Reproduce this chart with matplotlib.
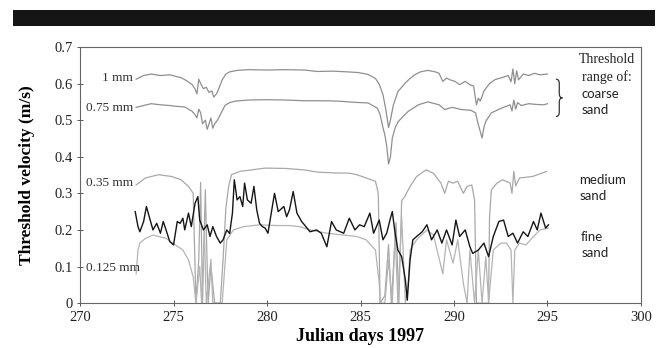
import matplotlib
matplotlib.use("Agg")
import matplotlib.pyplot as plt
from matplotlib.patches import Rectangle, PathPatch
from matplotlib.path import Path

# threshold curve for 1 mm grains
days_1mm = [273.0, 273.4, 273.8, 274.3, 274.8, 275.1, 275.4, 275.7, 276.0, 276.15,
            276.25, 276.35, 276.45, 276.6, 276.75, 276.9, 277.05, 277.15, 277.3, 277.45,
            277.6, 277.8, 278.0, 278.4, 279.0, 280.0, 281.0, 282.0, 282.7, 283.5,
            284.3, 284.9, 285.4, 285.8, 286.0, 286.2, 286.35, 286.5, 286.6, 286.75,
            287.0, 287.2, 287.4, 287.65, 287.9, 288.2, 288.6, 289.0, 289.2, 289.4,
            289.6, 289.8, 290.05, 290.3, 290.6, 290.85, 291.05, 291.2, 291.3, 291.4,
            291.5, 291.6, 291.75, 291.9, 292.2, 292.55, 292.9, 293.05, 293.15, 293.25,
            293.35, 293.45, 293.7, 294.0, 294.3, 294.6, 295.0]
vel_1mm = [0.612, 0.622, 0.626, 0.622, 0.624, 0.62, 0.616, 0.608, 0.597, 0.585,
           0.572, 0.612, 0.6, 0.586, 0.59, 0.576, 0.58, 0.563, 0.572, 0.59,
           0.61, 0.626, 0.632, 0.636, 0.638, 0.637, 0.638, 0.637, 0.633, 0.634,
           0.632, 0.63, 0.625, 0.614, 0.598, 0.57, 0.53, 0.48, 0.50, 0.54,
           0.578, 0.59, 0.602, 0.614, 0.624, 0.632, 0.636, 0.632, 0.628, 0.606,
           0.615, 0.61, 0.606, 0.597, 0.606, 0.597, 0.593, 0.542, 0.56, 0.552,
           0.565, 0.579, 0.59, 0.6, 0.611, 0.616, 0.622, 0.605, 0.64, 0.6,
           0.635, 0.61, 0.626, 0.622, 0.628, 0.624, 0.626]

# 0.75 mm
days_075 = [273.0, 273.4, 273.8, 274.3, 274.8, 275.1, 275.6, 276.0, 276.15, 276.25,
            276.35, 276.45, 276.55, 276.7, 276.8, 276.9, 277.0, 277.1, 277.2, 277.35,
            277.5, 277.75, 278.0, 278.3, 279.0, 280.0, 281.0, 282.0, 283.0, 283.8,
            284.6, 285.4, 285.9, 286.05, 286.2, 286.3, 286.4, 286.5, 286.6, 286.7,
            286.85, 287.0, 287.2, 287.55, 288.1, 288.6, 289.2, 289.5, 289.9, 290.4,
            290.9, 291.15, 291.3, 291.4, 291.5, 291.6, 291.7, 292.0, 292.55, 293.0,
            293.1, 293.2, 293.3, 293.4, 293.6, 294.0, 294.4, 294.8, 295.0]
vel_075 = [0.535, 0.54, 0.545, 0.542, 0.54, 0.538, 0.536, 0.524, 0.515, 0.506,
           0.53, 0.52, 0.49, 0.50, 0.475, 0.49, 0.506, 0.478, 0.49, 0.50,
           0.515, 0.54, 0.548, 0.552, 0.555, 0.556, 0.555, 0.553, 0.553, 0.552,
           0.549, 0.547, 0.533, 0.515, 0.48, 0.46, 0.43, 0.38, 0.40, 0.451,
           0.479, 0.495, 0.506, 0.524, 0.542, 0.55, 0.542, 0.529, 0.535, 0.529,
           0.527, 0.52, 0.488, 0.47, 0.451, 0.48, 0.497, 0.52, 0.533, 0.542,
           0.525, 0.555, 0.53, 0.548, 0.54, 0.545, 0.543, 0.542, 0.545]

# 0.35 mm
days_035 = [273.0, 273.5, 274.2, 274.9, 275.4, 275.8, 276.05, 276.2, 276.35, 276.45,
            276.55, 276.7, 276.85, 277.0, 277.2, 277.5, 277.65, 277.8, 277.95, 278.1,
            278.55, 279.9, 281.0, 282.0, 282.7, 283.5, 284.4, 284.8, 285.3, 285.8,
            285.95, 286.05, 286.3, 286.5, 286.65, 286.9, 287.05, 287.2, 287.35, 287.65,
            288.0, 288.5, 288.9, 289.3, 289.5, 289.7, 289.95, 290.2, 290.5, 290.7,
            290.95, 291.1, 291.2, 291.4, 291.6, 291.85, 291.9, 292.0, 292.3, 292.6,
            293.0, 293.1, 293.2, 293.3, 293.5, 294.2, 294.95]
vel_035 = [0.323, 0.342, 0.351, 0.346, 0.337, 0.319, 0.30, 0.0, 0.12, 0.33,
           0.0, 0.31, 0.0, 0.10, 0.0, 0.0, 0.12, 0.26, 0.32, 0.351,
           0.36, 0.369, 0.368, 0.364, 0.358, 0.356, 0.355, 0.351, 0.342, 0.333,
           0.30, 0.0, 0.02, 0.16, 0.0, 0.22, 0.0, 0.28, 0.29, 0.319,
           0.346, 0.364, 0.355, 0.328, 0.30, 0.333, 0.328, 0.333, 0.30, 0.319,
           0.323, 0.282, 0.0, 0.0, 0.0, 0.0, 0.236, 0.31, 0.328, 0.337,
           0.328, 0.30, 0.36, 0.32, 0.342, 0.346, 0.36]

# 0.125 mm
days_0125 = [273.0, 273.1, 273.2, 273.5, 273.9, 274.6, 275.1, 275.5, 275.8, 276.05,
             276.2, 276.4, 276.5, 276.65, 276.75, 277.0, 277.1, 277.6, 277.85, 278.2,
             278.75, 279.6, 280.5, 281.2, 281.75, 282.3, 283.2, 284.1, 284.8, 285.3,
             285.8, 286.0, 286.05, 286.3, 286.5, 286.7, 286.85, 287.0, 287.2, 287.4,
             287.55, 287.65, 288.0, 288.55, 288.9, 289.4, 289.6, 289.95, 290.2, 290.5,
             290.7, 290.85, 291.1, 291.3, 291.5, 291.7, 291.85, 292.1, 292.5, 292.8,
             293.05, 293.15, 293.25, 293.5, 293.85, 294.25, 294.6, 295.05]
vel_0125 = [0.08, 0.145, 0.164, 0.177, 0.186, 0.177, 0.159, 0.145, 0.118, 0.072,
            0.0, 0.10, 0.0, 0.20, 0.0, 0.12, 0.0, 0.0, 0.173, 0.20,
            0.209, 0.214, 0.212, 0.212, 0.209, 0.2, 0.191, 0.186, 0.182, 0.173,
            0.145, 0.054, 0.0, 0.0, 0.118, 0.0, 0.191, 0.0, 0.236, 0.0,
            0.054, 0.145, 0.173, 0.2, 0.186, 0.08, 0.173, 0.109, 0.173, 0.054,
            0.0, 0.145, 0.0, 0.145, 0.0, 0.127, 0.0, 0.145, 0.164, 0.164,
            0.145, 0.0, 0.145, 0.164, 0.159, 0.182, 0.2, 0.205]

# measured velocity (black)
days_obs = [272.95, 273.1, 273.2, 273.4, 273.55, 273.75, 273.9, 274.1, 274.3, 274.45,
            274.6, 274.8, 275.0, 275.2, 275.35, 275.5, 275.6, 275.8, 275.95, 276.15,
            276.3, 276.4, 276.6, 276.8, 276.95, 277.1, 277.3, 277.5, 277.65, 277.85,
            278.0, 278.15, 278.25, 278.4, 278.55, 278.7, 278.8, 278.95, 279.15, 279.3,
            279.45, 279.6, 279.75, 279.9, 280.05, 280.4, 280.6, 280.9, 281.05, 281.2,
            281.4, 281.6, 281.85, 282.0, 282.3, 282.65, 282.9, 283.2, 283.45, 283.7,
            284.1, 284.4, 284.7, 284.95, 285.2, 285.5, 285.7, 286.0, 286.2, 286.4,
            286.6, 286.7, 286.85, 287.0, 287.2, 287.4, 287.5, 287.65, 287.8, 288.0,
            288.3, 288.55, 288.8, 289.1, 289.35, 289.6, 289.9, 290.1, 290.3, 290.6,
            290.85, 291.0, 291.3, 291.6, 291.85, 292.1, 292.4, 292.65, 292.9, 293.15,
            293.4, 293.7, 293.95, 294.25, 294.45, 294.65, 294.9, 295.05]
vel_obs = [0.25, 0.209, 0.195, 0.223, 0.264, 0.227, 0.20, 0.218, 0.191, 0.223,
           0.20, 0.168, 0.159, 0.223, 0.218, 0.232, 0.20, 0.246, 0.209, 0.273,
           0.291, 0.227, 0.20, 0.214, 0.182, 0.209, 0.182, 0.164, 0.173, 0.20,
           0.19, 0.246, 0.337, 0.282, 0.291, 0.264, 0.328, 0.282, 0.273, 0.319,
           0.255, 0.218, 0.209, 0.205, 0.191, 0.30, 0.25, 0.264, 0.236, 0.255,
           0.305, 0.246, 0.223, 0.214, 0.195, 0.20, 0.191, 0.154, 0.223, 0.20,
           0.191, 0.232, 0.20, 0.214, 0.209, 0.246, 0.191, 0.227, 0.173, 0.191,
           0.232, 0.25, 0.191, 0.145, 0.127, 0.063, 0.008, 0.118, 0.173, 0.182,
           0.195, 0.214, 0.173, 0.20, 0.164, 0.20, 0.159, 0.227, 0.182, 0.20,
           0.154, 0.136, 0.145, 0.164, 0.127, 0.182, 0.223, 0.227, 0.182, 0.191,
           0.164, 0.195, 0.182, 0.223, 0.20, 0.246, 0.205, 0.214]

x_ticks = [270, 275, 280, 285, 290, 295, 300]
y_ticks = [0, 0.1, 0.2, 0.3, 0.4, 0.5, 0.6, 0.7]
y_tick_labels = ["0", "0.1", "0.2", "0.3", "0.4", "0.5", "0.6", "0.7"]

serif = "Liberation Serif"
sans = "Lato"

fig = plt.figure(figsize=(6.67, 3.48), dpi=100)
fig.patch.set_facecolor("white")

# black banner at the top
fig.patches.append(Rectangle((0.02, 0.926), 0.962, 0.045, transform=fig.transFigure,
                             facecolor="#151515", edgecolor="none"))

ax = fig.add_axes([0.12, 0.129, 0.841, 0.736])

# gray threshold curves
ax.plot(days_1mm, vel_1mm, color="#8f8f8f", lw=0.9)
ax.plot(days_075, vel_075, color="#8f8f8f", lw=0.9)
ax.plot(days_035, vel_035, color="#a8a8a8", lw=0.9)
ax.plot(days_0125, vel_0125, color="#b4b4b4", lw=0.9)
# measured
ax.plot(days_obs, vel_obs, color="#151515", lw=1.0)

ax.set_xlim(270, 300)
ax.set_ylim(0, 0.7)
ax.set_xticks(x_ticks)
ax.set_xticklabels([str(t) for t in x_ticks], fontfamily=serif, fontsize=10.5)
ax.set_yticks(y_ticks)
ax.set_yticklabels(y_tick_labels, fontfamily=serif, fontsize=10.5)
ax.tick_params(direction="inout", length=5, width=0.7, color="#555555", labelcolor="#222222", pad=3)
for s in ax.spines.values():
    s.set_color("#666666")
    s.set_linewidth(0.8)

ax.set_ylabel("Threshold velocity (m/s)", fontfamily=serif, fontweight="bold", fontsize=12.5, labelpad=14)
ax.set_xlabel("Julian days 1997", fontfamily=serif, fontweight="bold", fontsize=13, labelpad=3)

# curve labels
lbl = dict(fontfamily=serif, fontsize=9.5, color="#333333", va="center")
ax.text(272.85, 0.616, "1 mm", ha="right", **lbl)
ax.text(272.85, 0.534, "0.75 mm", ha="right", **lbl)
ax.text(272.85, 0.327, "0.35 mm", ha="right", **lbl)
ax.text(270.3, 0.096, "0.125 mm", ha="left", **lbl)

# right-hand annotations
ax.text(296.7, 0.666, "Threshold", fontfamily=serif, fontsize=10, va="center", color="#222222")
ax.text(296.85, 0.618, "range of:", fontfamily=serif, fontsize=10, va="center", color="#222222")
sans_kw = dict(fontfamily=sans, fontsize=9.5, va="center", color="#222222")
ax.text(296.8, 0.571, "coarse", **sans_kw)
ax.text(296.8, 0.529, "sand", **sans_kw)
ax.text(296.7, 0.337, "medium", **sans_kw)
ax.text(296.7, 0.292, "sand", **sans_kw)
ax.text(296.8, 0.181, "fine", **sans_kw)
ax.text(296.8, 0.137, "sand", **sans_kw)

# curly brace for coarse sand range
bx0, bx1, bx2 = 295.45, 295.63, 295.8
by_top, by_mid, by_bot = 0.612, 0.561, 0.51
verts = [(bx0, by_top), (bx1, by_top), (bx1, by_top - 0.012),
         (bx1, by_mid + 0.012), (bx1, by_mid), (bx2, by_mid),
         (bx1, by_mid), (bx1, by_mid - 0.012),
         (bx1, by_bot + 0.012), (bx1, by_bot), (bx0, by_bot)]
codes = [Path.MOVETO, Path.CURVE3, Path.CURVE3,
         Path.LINETO, Path.CURVE3, Path.CURVE3,
         Path.CURVE3, Path.CURVE3,
         Path.LINETO, Path.CURVE3, Path.CURVE3]
ax.add_patch(PathPatch(Path(verts, codes), facecolor="none", edgecolor="#333333", lw=0.9))

fig.savefig("out.png", dpi=100)
